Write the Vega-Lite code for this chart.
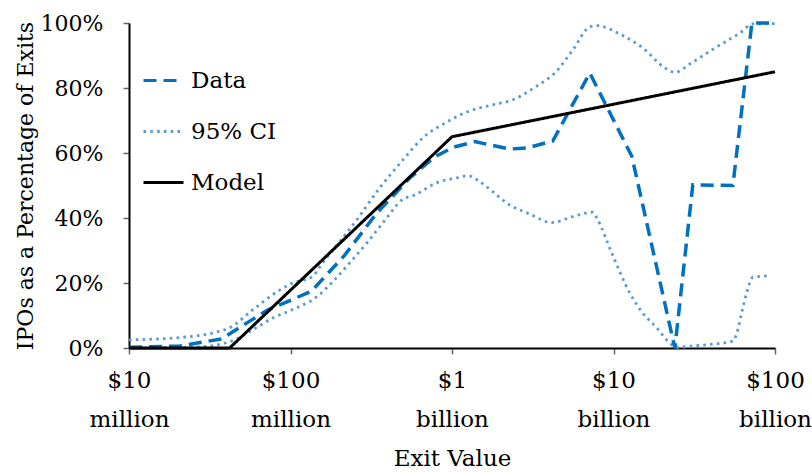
{
  "$schema": "https://vega.github.io/schema/vega-lite/v6.json",
  "width": 646,
  "height": 325,
  "autosize": "none",
  "padding": {"left": 129, "top": 23, "right": 37, "bottom": 124},
  "background": "white",
  "config": {
    "view": {"stroke": null},
    "font": "DejaVu Serif",
    "axis": {"grid": false, "labelColor": "#000", "titleColor": "#000", "titleFontWeight": "normal", "domainColor": "#000", "domainWidth": 2, "tickColor": "#666", "tickWidth": 1.5, "tickSize": 6},
    "legend": {"labelColor": "#000"}
  },
  "datasets": {
    "lines": [
      {"series": "Model", "part": "m", "exit": 10, "pct": 0},
      {"series": "Model", "part": "m", "exit": 42, "pct": 0},
      {"series": "Model", "part": "m", "exit": 1000, "pct": 0.65},
      {"series": "Model", "part": "m", "exit": 100000, "pct": 0.85},

      {"series": "Data", "part": "d", "exit": 10, "pct": 0.002},
      {"series": "Data", "part": "d", "exit": 20.6, "pct": 0.006},
      {"series": "Data", "part": "d", "exit": 37.4, "pct": 0.028},
      {"series": "Data", "part": "d", "exit": 72.1, "pct": 0.117},
      {"series": "Data", "part": "d", "exit": 95.9, "pct": 0.143},
      {"series": "Data", "part": "d", "exit": 135, "pct": 0.175},
      {"series": "Data", "part": "d", "exit": 216, "pct": 0.285},
      {"series": "Data", "part": "d", "exit": 342, "pct": 0.415},
      {"series": "Data", "part": "d", "exit": 547, "pct": 0.523},
      {"series": "Data", "part": "d", "exit": 781, "pct": 0.588},
      {"series": "Data", "part": "d", "exit": 1010, "pct": 0.617},
      {"series": "Data", "part": "d", "exit": 1382, "pct": 0.635},
      {"series": "Data", "part": "d", "exit": 2278, "pct": 0.612},
      {"series": "Data", "part": "d", "exit": 2944, "pct": 0.616},
      {"series": "Data", "part": "d", "exit": 4207, "pct": 0.637},
      {"series": "Data", "part": "d", "exit": 7132, "pct": 0.846},
      {"series": "Data", "part": "d", "exit": 12980, "pct": 0.59},
      {"series": "Data", "part": "d", "exit": 23980, "pct": 0.0},
      {"series": "Data", "part": "d", "exit": 30990, "pct": 0.502},
      {"series": "Data", "part": "d", "exit": 54860, "pct": 0.5},
      {"series": "Data", "part": "d", "exit": 71930, "pct": 1.0},
      {"series": "Data", "part": "d", "exit": 100000, "pct": 1.0},

      {"series": "95% CI", "part": "upper", "exit": 10, "pct": 0.025},
      {"series": "95% CI", "part": "upper", "exit": 22.7, "pct": 0.034},
      {"series": "95% CI", "part": "upper", "exit": 34.8, "pct": 0.049},
      {"series": "95% CI", "part": "upper", "exit": 41.9, "pct": 0.062},
      {"series": "95% CI", "part": "upper", "exit": 58.2, "pct": 0.117},
      {"series": "95% CI", "part": "upper", "exit": 85.6, "pct": 0.178},
      {"series": "95% CI", "part": "upper", "exit": 103, "pct": 0.2},
      {"series": "95% CI", "part": "upper", "exit": 135, "pct": 0.218},
      {"series": "95% CI", "part": "upper", "exit": 158, "pct": 0.262},
      {"series": "95% CI", "part": "upper", "exit": 257, "pct": 0.394},
      {"series": "95% CI", "part": "upper", "exit": 356, "pct": 0.492},
      {"series": "95% CI", "part": "upper", "exit": 495, "pct": 0.578},
      {"series": "95% CI", "part": "upper", "exit": 658, "pct": 0.646},
      {"series": "95% CI", "part": "upper", "exit": 927, "pct": 0.695},
      {"series": "95% CI", "part": "upper", "exit": 1233, "pct": 0.726},
      {"series": "95% CI", "part": "upper", "exit": 1892, "pct": 0.751},
      {"series": "95% CI", "part": "upper", "exit": 2278, "pct": 0.76},
      {"series": "95% CI", "part": "upper", "exit": 3348, "pct": 0.806},
      {"series": "95% CI", "part": "upper", "exit": 4329, "pct": 0.846},
      {"series": "95% CI", "part": "upper", "exit": 5596, "pct": 0.917},
      {"series": "95% CI", "part": "upper", "exit": 7132, "pct": 0.988},
      {"series": "95% CI", "part": "upper", "exit": 7880, "pct": 0.992},
      {"series": "95% CI", "part": "upper", "exit": 10940, "pct": 0.966},
      {"series": "95% CI", "part": "upper", "exit": 15190, "pct": 0.923},
      {"series": "95% CI", "part": "upper", "exit": 20790, "pct": 0.862},
      {"series": "95% CI", "part": "upper", "exit": 23980, "pct": 0.848},
      {"series": "95% CI", "part": "upper", "exit": 29700, "pct": 0.874},
      {"series": "95% CI", "part": "upper", "exit": 42410, "pct": 0.923},
      {"series": "95% CI", "part": "upper", "exit": 60610, "pct": 0.969},
      {"series": "95% CI", "part": "upper", "exit": 72970, "pct": 0.997},
      {"series": "95% CI", "part": "upper", "exit": 100000, "pct": 0.998},

      {"series": "95% CI", "part": "lower", "exit": 10, "pct": 0.0},
      {"series": "95% CI", "part": "lower", "exit": 26.2, "pct": 0.003},
      {"series": "95% CI", "part": "lower", "exit": 41.9, "pct": 0.019},
      {"series": "95% CI", "part": "lower", "exit": 62.5, "pct": 0.065},
      {"series": "95% CI", "part": "lower", "exit": 79.7, "pct": 0.095},
      {"series": "95% CI", "part": "lower", "exit": 101.6, "pct": 0.117},
      {"series": "95% CI", "part": "lower", "exit": 145, "pct": 0.157},
      {"series": "95% CI", "part": "lower", "exit": 182, "pct": 0.203},
      {"series": "95% CI", "part": "lower", "exit": 226, "pct": 0.255},
      {"series": "95% CI", "part": "lower", "exit": 300, "pct": 0.326},
      {"series": "95% CI", "part": "lower", "exit": 394, "pct": 0.4},
      {"series": "95% CI", "part": "lower", "exit": 488, "pct": 0.455},
      {"series": "95% CI", "part": "lower", "exit": 587, "pct": 0.471},
      {"series": "95% CI", "part": "lower", "exit": 839, "pct": 0.512},
      {"series": "95% CI", "part": "lower", "exit": 1039, "pct": 0.522},
      {"series": "95% CI", "part": "lower", "exit": 1251, "pct": 0.53},
      {"series": "95% CI", "part": "lower", "exit": 1485, "pct": 0.512},
      {"series": "95% CI", "part": "lower", "exit": 1787, "pct": 0.481},
      {"series": "95% CI", "part": "lower", "exit": 2183, "pct": 0.446},
      {"series": "95% CI", "part": "lower", "exit": 3029, "pct": 0.412},
      {"series": "95% CI", "part": "lower", "exit": 4147, "pct": 0.386},
      {"series": "95% CI", "part": "lower", "exit": 5596, "pct": 0.404},
      {"series": "95% CI", "part": "lower", "exit": 7442, "pct": 0.418},
      {"series": "95% CI", "part": "lower", "exit": 7880, "pct": 0.4},
      {"series": "95% CI", "part": "lower", "exit": 9760, "pct": 0.292},
      {"series": "95% CI", "part": "lower", "exit": 12620, "pct": 0.169},
      {"series": "95% CI", "part": "lower", "exit": 14980, "pct": 0.111},
      {"series": "95% CI", "part": "lower", "exit": 18550, "pct": 0.062},
      {"series": "95% CI", "part": "lower", "exit": 22330, "pct": 0.015},
      {"series": "95% CI", "part": "lower", "exit": 24680, "pct": 0.002},
      {"series": "95% CI", "part": "lower", "exit": 30560, "pct": 0.006},
      {"series": "95% CI", "part": "lower", "exit": 41230, "pct": 0.012},
      {"series": "95% CI", "part": "lower", "exit": 54860, "pct": 0.021},
      {"series": "95% CI", "part": "lower", "exit": 58080, "pct": 0.046},
      {"series": "95% CI", "part": "lower", "exit": 62360, "pct": 0.111},
      {"series": "95% CI", "part": "lower", "exit": 66970, "pct": 0.172},
      {"series": "95% CI", "part": "lower", "exit": 72970, "pct": 0.218},
      {"series": "95% CI", "part": "lower", "exit": 90360, "pct": 0.222}
    ]
  },
  "data": {"name": "lines"},
  "encoding": {
    "x": {
      "field": "exit", "type": "quantitative",
      "scale": {"type": "log", "domain": [10, 100000], "nice": false},
      "axis": {
        "title": "Exit Value",
        "values": [10, 100, 1000, 10000, 100000],
        "labelExpr": "datum.value == 10 ? ['$10','million'] : datum.value == 100 ? ['$100','million'] : datum.value == 1000 ? ['$1','billion'] : datum.value == 10000 ? ['$10','billion'] : ['$100','billion']",
        "labelFont": "DejaVu Serif",
        "labelFontSize": 23,
        "titleFont": "DejaVu Serif",
        "titleFontSize": 23,
        "labelLineHeight": 39,
        "labelPadding": 15,
        "labelOverlap": false,
        "labelFlush": false,
        "titlePadding": 16
      }
    },
    "y": {
      "field": "pct", "type": "quantitative",
      "scale": {"domain": [0, 1], "nice": false},
      "axis": {"title": "IPOs as a Percentage of Exits", "values": [0, 0.2, 0.4, 0.6, 0.8, 1], "format": ".0%", "labelFont": "DejaVu Serif", "labelFontSize": 22, "titleFont": "DejaVu Serif", "titleFontSize": 22, "labelPadding": 20, "titlePadding": 3}
    },
    "color": {
      "field": "series", "type": "nominal",
      "scale": {"domain": ["Data", "95% CI", "Model"], "range": ["#0070C0", "#5B9BD5", "#000000"]},
      "legend": {"title": null, "orient": "none", "legendX": 13, "legendY": 36, "symbolType": "stroke", "symbolSize": 1600, "symbolStrokeWidth": 3, "rowPadding": 17, "labelOffset": 6, "padding": 0, "labelFont": "DejaVu Serif", "labelFontSize": 23}
    },
    "strokeDash": {
      "field": "series", "type": "nominal",
      "scale": {"domain": ["Data", "95% CI", "Model"], "range": [[13, 7], [2.6, 4.2], [1, 0]]},
      "legend": {"title": null, "orient": "none", "legendX": 13, "legendY": 36, "symbolType": "stroke", "symbolSize": 1600, "symbolStrokeWidth": 3, "rowPadding": 17, "labelOffset": 6, "padding": 0, "labelFont": "DejaVu Serif", "labelFontSize": 23}
    },
    "detail": {"field": "part"}
  },
  "layer": [
    {"transform": [{"filter": "datum.series == '95% CI'"}], "mark": {"type": "line", "strokeWidth": 2.8, "interpolate": "monotone", "clip": false}},
    {"transform": [{"filter": "datum.series == 'Data'"}], "mark": {"type": "line", "strokeWidth": 3.5}},
    {"transform": [{"filter": "datum.series == 'Model'"}], "mark": {"type": "line", "strokeWidth": 3}}
  ]
}
